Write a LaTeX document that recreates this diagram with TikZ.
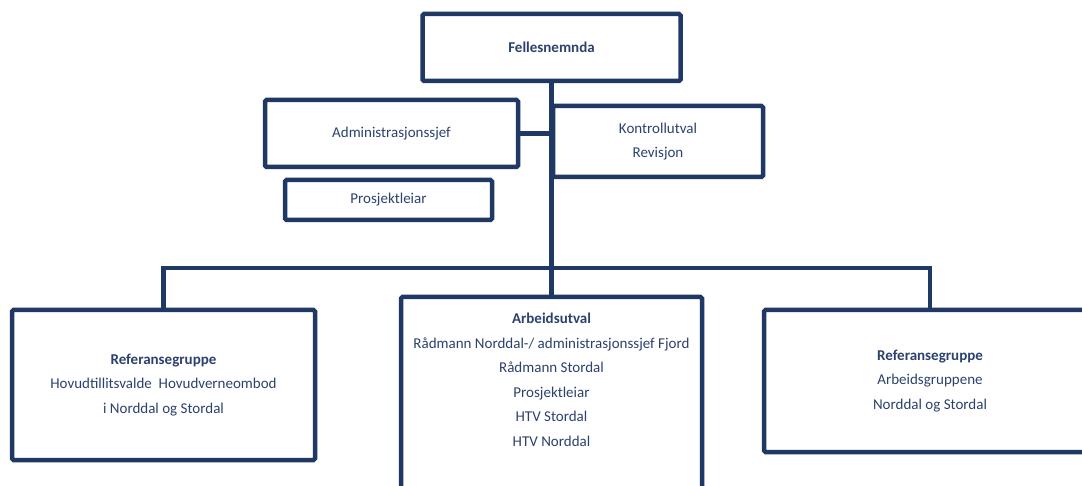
\documentclass[tikz,border=0pt]{standalone}
\usepackage{fontspec}
\setmainfont{Carlito}
\usetikzlibrary{backgrounds}
\definecolor{navy}{RGB}{31,56,100}
\definecolor{txt}{RGB}{44,66,110}
\begin{document}
\begin{tikzpicture}[x=1pt,y=1pt,
  txtstyle/.style={inner sep=0pt,align=center,text=txt,font=\fontsize{15}{24.5}\selectfont},
  box/.style={txtstyle,draw=navy,line width=4.5pt,rounded corners=1.5pt,fill=white},
  conn/.style={draw=navy,line width=4.5pt}]
\useasboundingbox (0,0) rectangle (1082,-486);
\clip (0,0) rectangle (1082,-486);
% boxes
\node[box,minimum width=258pt,minimum height=67pt] (fell) at (551.5,-47.5) {\textbf{Fellesnemnda}};
\node[box,minimum width=253pt,minimum height=67pt] (admin) at (391.5,-133.5) {Administrasjonssjef};
\node[box,minimum width=210pt,minimum height=71pt] (kontroll) at (658,-141.5) {Kontrollutval\\Revisjon};
\node[box,minimum width=207pt,minimum height=40pt] (prosj) at (388.5,-200) {Prosjektleiar};
\node[box,minimum width=303pt,minimum height=150pt] (left) at (163.5,-385) {\textbf{Referansegruppe}\\Hovudtillitsvalde\ \ Hovudverneombod\\i Norddal og Stordal};
\node[box,minimum width=301pt,minimum height=220pt] (mid) at (551.5,-407) {};
\node[txtstyle] (midtxt) at (551.5,-380) {\textbf{Arbeidsutval}\\Rådmann Norddal-/ administrasjonssjef Fjord\\Rådmann Stordal\\Prosjektleiar\\HTV Stordal\\HTV Norddal};
\node[box,minimum width=332pt,minimum height=142pt] (right) at (930,-381) {\textbf{Referansegruppe}\\Arbeidsgruppene\\Norddal og Stordal};
\coordinate (jn) at (551.5,-268);
% connectors
\begin{pgfonlayer}{background}
\fill[white] (0,0) rectangle (1082,-486);
\draw[conn] (fell.south) -- (jn);
\draw[conn] (jn) -- (mid.north);
\draw[conn] (jn) -| (left.north);
\draw[conn] (jn) -| (right.north);
\draw[conn] (admin.east) -- (admin.east -| jn);
\end{pgfonlayer}
\end{tikzpicture}
\end{document}
